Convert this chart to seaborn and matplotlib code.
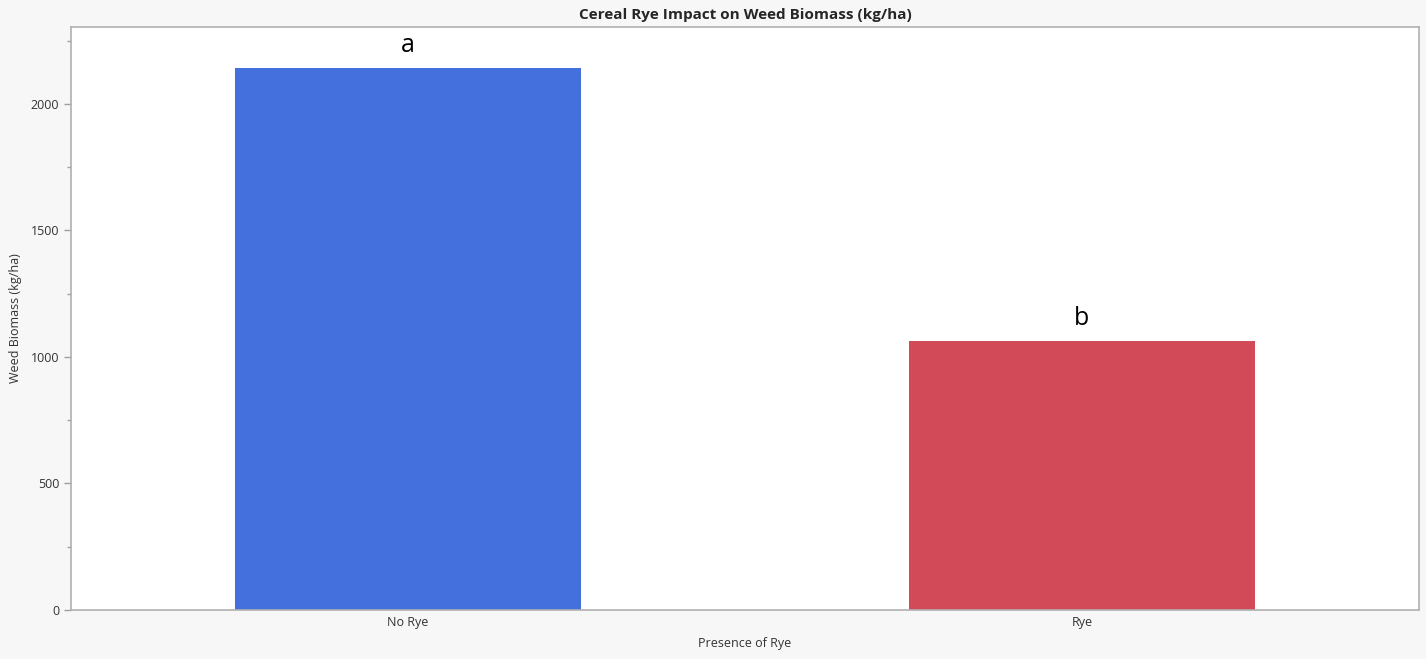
import pandas as pd
import seaborn as sns
import matplotlib.pyplot as plt

# data
categories = ['No Rye', 'Rye']
biomass = [2140, 1063]
letters = ['a', 'b']
bar_colors = ['#4370DD', '#D24957']

df = pd.DataFrame({'Presence of Rye': categories, 'Weed Biomass (kg/ha)': biomass})

sns.set_style('white')
plt.rcParams['font.family'] = ['Open Sans', 'DejaVu Sans']

fig = plt.figure(figsize=(14.26, 6.59), dpi=100, facecolor='#f7f7f7')
ax = fig.add_axes([71 / 1426, 1 - 610 / 659, 1348 / 1426, 583 / 659])
ax.set_facecolor('white')

sns.barplot(data=df, x='Presence of Rye', y='Weed Biomass (kg/ha)', hue='Presence of Rye',
            palette=bar_colors, width=0.514, saturation=1, legend=False,
            linewidth=0, ax=ax)

ax.set_xlim(-0.5, 1.5)
ax.set_ylim(0, 2304)
ax.set_yticks([0, 500, 1000, 1500, 2000])
ax.set_yticks([250, 750, 1250, 1750, 2250], minor=True)

# significance letters above bars
for i, (v, lt) in enumerate(zip(biomass, letters)):
    ax.text(i, v + 40, lt, ha='center', va='bottom', fontsize=18, color='black')

ax.set_title('Cereal Rye Impact on Weed Biomass (kg/ha)', fontsize=11,
             fontweight='bold', pad=6)
ax.set_xlabel('Presence of Rye', fontsize=9, color='#333333', labelpad=6)
ax.set_ylabel('Weed Biomass (kg/ha)', fontsize=9, color='#333333', labelpad=6)

for side, sp in ax.spines.items():
    sp.set_visible(True)
    sp.set_color('#b0b0b0')
    sp.set_linewidth(1.2)
ax.tick_params(axis='y', which='major', length=5, width=1, color='#a0a0a0',
               labelsize=9, labelcolor='#333333', left=True)
ax.tick_params(axis='y', which='minor', length=3, width=1, color='#a0a0a0', left=True)
ax.tick_params(axis='x', length=0, labelsize=9, labelcolor='#333333', pad=4)

fig.savefig('out.png', dpi=100, facecolor=fig.get_facecolor())
